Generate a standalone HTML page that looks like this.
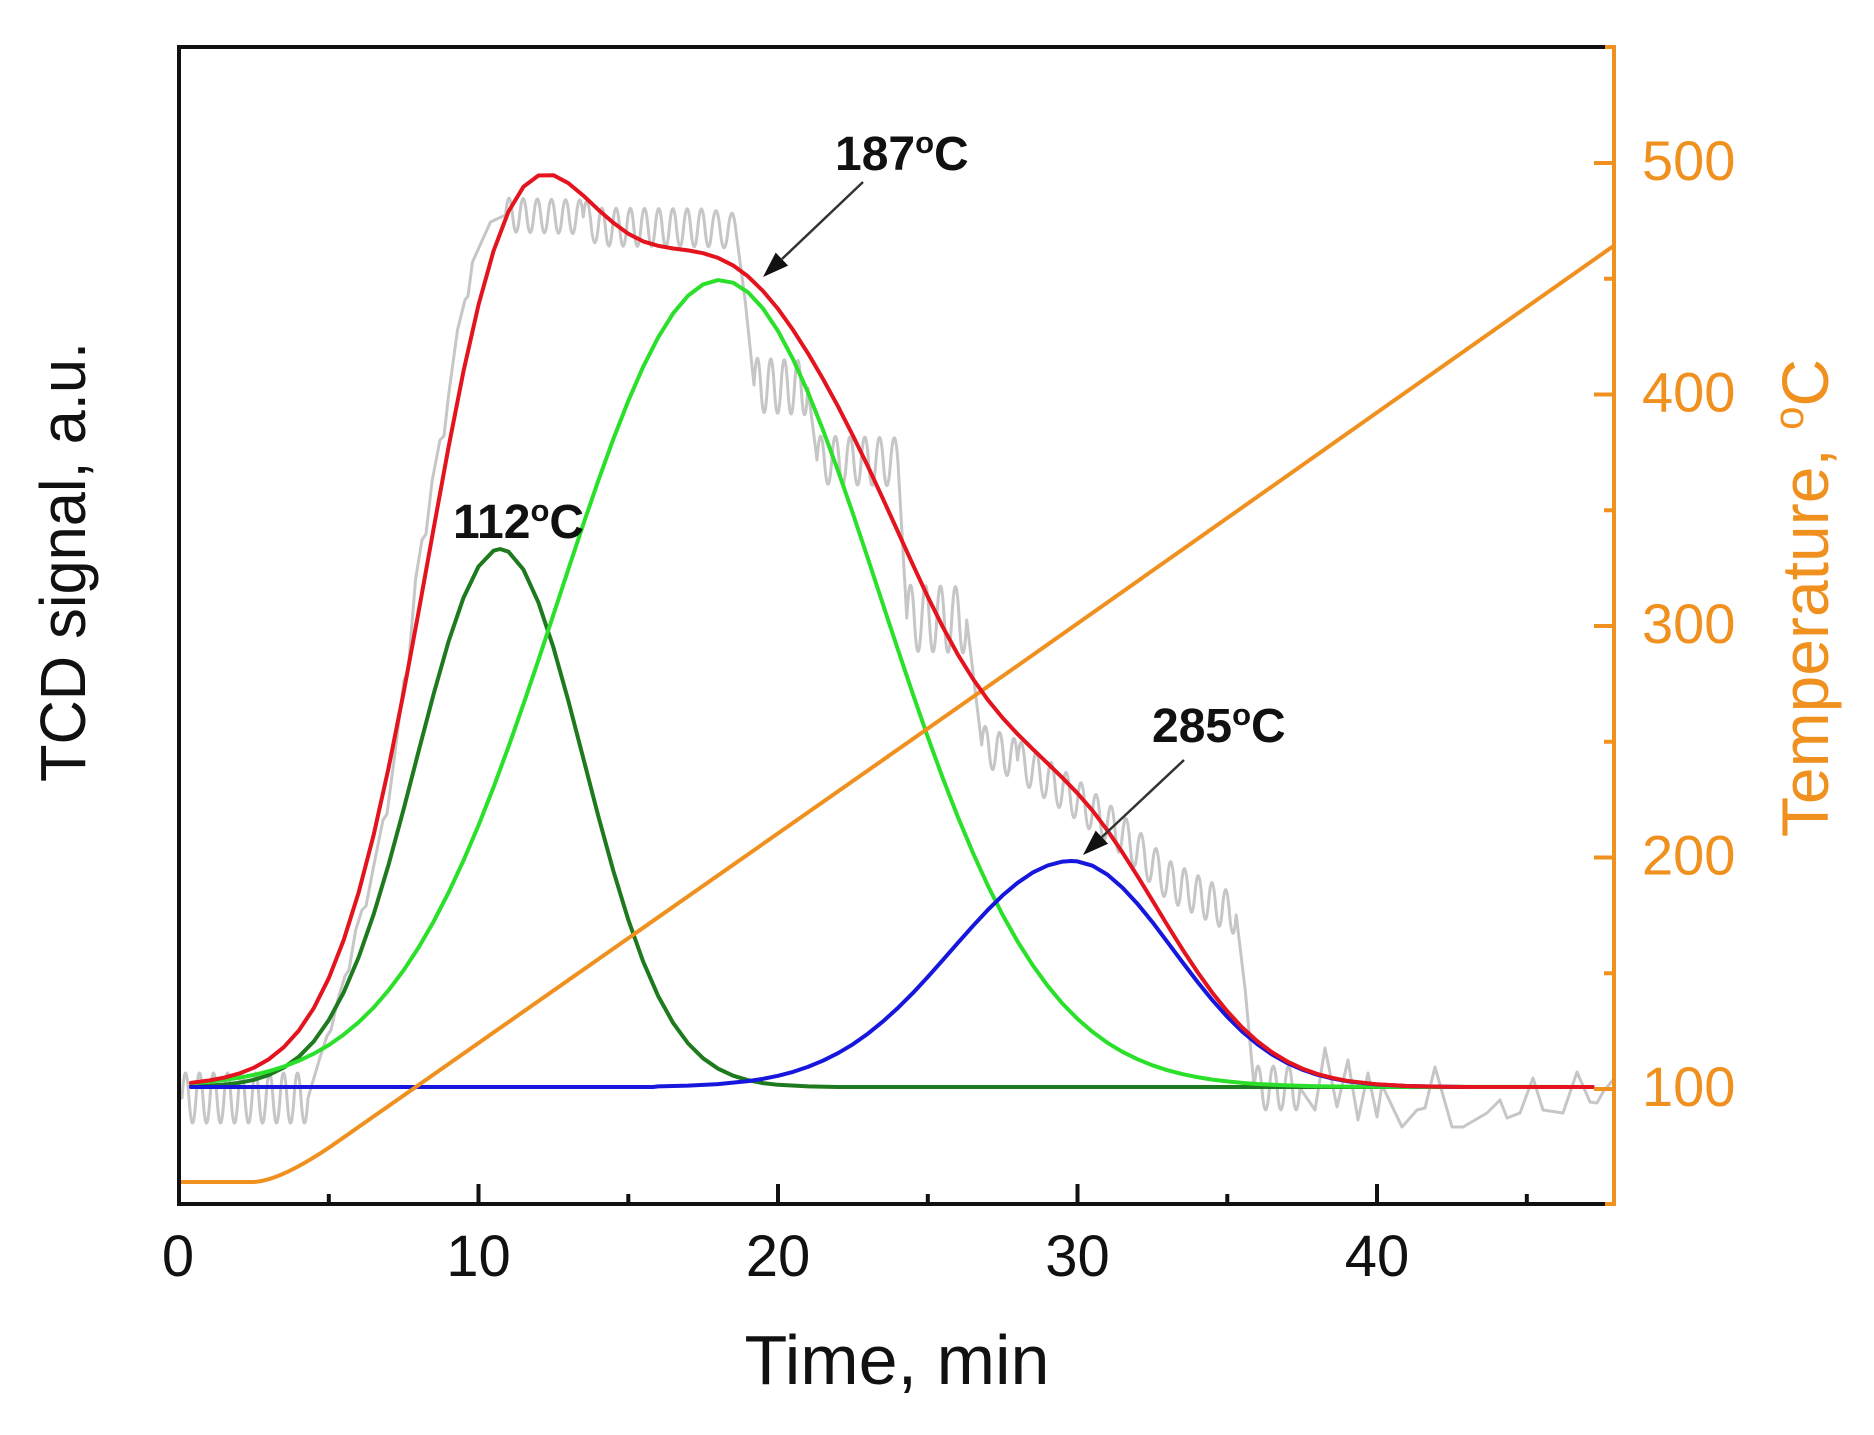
<!DOCTYPE html>
<html>
<head>
<meta charset="utf-8">
<style>
html,body{margin:0;padding:0;background:#fff;}
svg{display:block;}
</style>
</head>
<body>
<svg width="1874" height="1435" viewBox="0 0 1874 1435" xmlns="http://www.w3.org/2000/svg" font-family="'Liberation Sans', Arial, sans-serif">
<rect x="0" y="0" width="1874" height="1435" fill="#ffffff"/>

<g fill="none" stroke-linejoin="round" stroke-linecap="round">
<!-- gray raw signal -->
<path stroke="#C6C6C6" stroke-width="3" d="M182,1098 q3.5,-50 7,0 t7,0 t7,0 t7,0 t7,0 t7,0 t7,0 t7,0 t7,0 t7,0 t7,0 t7,0 t7,0 t7,0 t7,0 t7,0 t7,0 t7,0
L319.8,1058 L327,1036 L331,1030 L337.7,1000 L345,976 L349,970 L355.7,930 L362,910 L366,906 L373.7,866 L383,820 L387,814 L394.6,756 L404,680 L408,672 L415.6,579 L422,540 L426,534 L432.1,481 L440,440 L444,436 L448.6,395 L457.5,330 L465,300 L468,296 L472.5,262 L490.5,222 L505.5,215
q3.54,-33.8 7.07,0.18 t7.07,0.18 t7.07,0.18 t7.07,0.18 t7.07,0.18 t7.07,0.18 t7.07,0.18 t7.07,0.18 t7.07,0.18 t7.07,0.18 t7.07,0.18
q3.75,-33.5 7.5,5 t7.5,5
q3.56,-37.97 7.11,0.06 t7.11,0.06 t7.11,0.06 t7.11,0.06 t7.11,0.06 t7.11,0.06 t7.11,0.06 t7.11,0.06 t7.11,0.06 t7.11,0.06 t7.11,0.06 t7.11,0.06 t7.11,0.06 t7.11,0.06 t7.11,0.06 t7.11,0.06
q4,-35.3 8,1.33 t8,1.33 t8,1.33
L745.1,300 L754,385
q3.37,-53.8 6.74,0.375 t6.74,0.375 t6.74,0.375 t6.74,0.375 t6.74,0.375 t6.74,0.375 t6.74,0.375 t6.74,0.375
L817,460
q3.68,-47.9 7.36,0.18 t7.36,0.18 t7.36,0.18 t7.36,0.18 t7.36,0.18 t7.36,0.18 t7.36,0.18 t7.36,0.18 t7.36,0.18 t7.36,0.18 t7.36,0.18
L906.8,618
q3.74,-65.9 7.49,0.25 t7.49,0.25 t7.49,0.25 t7.49,0.25 t7.49,0.25 t7.49,0.25 t7.49,0.25 t7.49,0.25
L981.7,745
q3.59,-38.5 7.18,3 t7.18,3 t7.18,3 t7.18,3 t7.18,3
q3.74,-37.5 7.49,5 t7.49,5 t7.49,5 t7.49,5 t7.49,5 t7.49,5 t7.49,5 t7.49,5
q3.74,-37.1 7.48,5.83 t7.48,5.83 t7.48,5.83 t7.48,5.83 t7.48,5.83 t7.48,5.83
q3.75,-36.25 7.5,7.5 t7.5,7.5 t7.5,7.5 t7.5,7.5 t7.5,7.5 t7.5,7.5
q3.44,-38.25 6.88,3.5 t6.88,3.5 t6.88,3.5 t6.88,3.5 t6.88,3.5 t6.88,3.5 t6.88,3.5 t6.88,3.5 t6.88,3.5 t6.88,3.5
L1245.2,990 L1254.2,1088
q3.82,-44 7.63,0 t7.63,0 t7.63,0 t7.63,0 t7.63,0 t7.63,0
L1315,1110 L1325,1048 L1337,1107 L1348,1060 L1358,1120 L1368,1073 L1377,1117 L1382,1085 L1402,1127 L1417,1110 L1425,1108 L1435,1067 L1452,1127 L1463,1127 L1487,1113 L1500,1100 L1507,1118 L1520,1113 L1533,1078 L1543,1110 L1563,1113 L1577,1072 L1590,1102 L1597,1103 L1603,1092 L1613,1080"/>

<!-- dark green -->
<path stroke="#1E7A1E" stroke-width="4" d="M191,1086.3 L208.95,1085.7 L223.9,1084.6 L238.9,1082.8 L253.9,1079.8 L268.85,1075 L283.8,1067.6 L298.8,1056.8 L313.8,1041.4 L328.75,1020.2 L343.7,992.4 L358.7,957.1 L373.7,914.2 L388.65,864.4 L403.6,809.3 L418.6,751.3 L433.6,694.1 L448.55,641.5 L463.5,597.7 L478.5,566.5 L493.5,550.7 L500.1,549 L508.45,551.7 L523.4,569.5 L538.4,602.4 L553.4,647.4 L568.35,700.8 L583.3,758.3 L598.3,816.1 L613.3,870.7 L628.25,919.7 L643.2,961.7 L658.2,996.1 L673.2,1023.1 L688.15,1043.5 L703.1,1058.3 L718.1,1068.7 L733.1,1075.7 L748.05,1080.2 L763,1083.1 L778,1084.8 L807.95,1086.4 L837.9,1087 L1592.6,1087"/>

<!-- light green -->
<path stroke="#2BE02B" stroke-width="4" d="M191,1083.4 L208.95,1081.8 L223.9,1080 L238.9,1077.8 L253.9,1074.9 L268.85,1071.2 L283.8,1066.6 L298.8,1060.8 L313.8,1053.7 L328.75,1045.1 L343.7,1034.6 L358.7,1022.2 L373.7,1007.5 L388.65,990.2 L403.6,970.3 L418.6,947.5 L433.6,921.6 L448.55,892.6 L463.5,860.5 L478.5,825.4 L493.5,787.4 L508.45,746.9 L523.4,704.3 L538.4,660.1 L553.4,614.8 L568.35,569.3 L583.3,524.3 L598.3,480.6 L613.3,439.1 L628.25,401 L643.2,366.7 L658.2,337.3 L673.2,313.3 L688.15,295.6 L703.1,284.4 L718.1,280.05 L733.1,282.7 L748.05,292.3 L763,308.5 L778,331 L793,359.2 L807.95,392.3 L822.9,429.7 L837.9,470.4 L852.9,513.6 L867.85,558.4 L882.8,603.9 L897.8,649.3 L912.8,693.8 L927.75,736.9 L942.7,777.9 L957.7,816.5 L972.7,852.3 L987.65,885.2 L1002.6,914.9 L1017.6,941.5 L1032.6,965.1 L1047.55,985.7 L1062.5,1003.6 L1077.5,1018.9 L1092.5,1031.9 L1107.45,1042.8 L1122.4,1051.8 L1137.4,1059.2 L1152.4,1065.3 L1167.35,1070.2 L1182.3,1074.1 L1197.3,1077.15 L1212.3,1079.6 L1227.25,1081.4 L1242.2,1082.9 L1257.2,1084 L1287.15,1085.4 L1317.1,1086.2 L1347.05,1086.6 L1377,1086.8 L1592.6,1087"/>

<!-- blue -->
<path stroke="#1616DC" stroke-width="4" d="M191,1087 L653,1087 L658.2,1086.4 L688.15,1085.65 L718.1,1084.1 L748.05,1081.1 L763,1078.8 L778,1075.8 L793,1071.9 L807.95,1066.9 L822.9,1060.7 L837.9,1053.2 L852.9,1044.3 L867.85,1033.7 L882.8,1021.6 L897.8,1008 L912.8,993.1 L927.75,977 L942.7,960.2 L957.7,943.1 L972.7,926.2 L987.65,910.1 L1002.6,895.4 L1017.6,882.8 L1032.6,872.6 L1047.55,865.5 L1062.5,861.6 L1071.5,861 L1077.5,861.4 L1092.5,865.7 L1107.45,874.6 L1122.4,887.6 L1137.4,903.7 L1152.4,922.1 L1167.35,941.9 L1182.3,962 L1197.3,981.6 L1212.3,1000.1 L1227.25,1016.8 L1242.2,1031.6 L1257.2,1044.1 L1272.2,1054.6 L1287.15,1063 L1302.1,1069.6 L1317.1,1074.7 L1332.1,1078.4 L1347.05,1081.2 L1377,1084.5 L1406.95,1086 L1436.9,1086.6 L1466.9,1087 L1592.6,1087"/>

<!-- orange temperature -->
<path stroke="#F0901E" stroke-width="4" d="M180,1182 L253,1182 Q282,1181 340,1140 L1020,664 L1612,247"/>

<!-- red sum -->
<path stroke="#E3141E" stroke-width="4" d="M191,1082.8 L208.95,1080.5 L223.9,1077.7 L238.9,1073.6 L253.9,1067.7 L268.85,1059.2 L283.8,1047.2 L298.8,1030.6 L313.8,1008.1 L328.75,978.3 L343.7,940 L358.7,892.3 L373.7,834.7 L388.65,767.6 L403.6,692.6 L418.6,611.8 L433.6,528.7 L448.55,447.1 L463.5,371.2 L478.5,304.9 L493.5,251.1 L508.45,211.6 L523.4,186.8 L538.4,175.5 L553.4,175.2 L568.35,183.1 L583.3,195.6 L598.3,209.7 L613.3,222.8 L628.25,233.7 L643.2,241.4 L658.2,245.8 L673.2,248.5 L688.15,250.4 L703.1,253.2 L718.1,257.9 L733.1,265.4 L748.05,276.4 L763,291 L778,308.9 L793,329.9 L807.95,353.3 L822.9,378.8 L837.9,406.2 L852.9,435.6 L867.85,466.3 L882.8,498.5 L897.8,531.5 L912.8,564.6 L927.75,596.7 L942.7,626.8 L957.7,654.3 L972.7,678.5 L987.65,699.6 L1002.6,717.9 L1017.6,734.1 L1032.6,748.9 L1047.55,763.3 L1062.5,777.8 L1077.5,793.3 L1092.5,810.6 L1107.45,830.4 L1122.4,852.4 L1137.4,875.9 L1152.4,900.4 L1167.35,925.1 L1182.3,949.1 L1197.3,971.75 L1212.3,992.7 L1227.25,1011.2 L1242.2,1027.5 L1257.2,1041.1 L1272.2,1052.4 L1287.15,1061.4 L1302.1,1068.45 L1317.1,1073.9 L1332.1,1077.85 L1347.05,1080.8 L1377,1084.3 L1406.95,1086 L1436.9,1086.6 L1466.9,1087 L1592.6,1087"/>
</g>

<!-- axes frame -->
<g stroke="#111" stroke-width="4" fill="none">
  <line x1="179" y1="45" x2="179" y2="1206"/>
  <line x1="177" y1="47" x2="1608" y2="47"/>
  <line x1="177" y1="1204" x2="1608" y2="1204"/>
  <line x1="478.5" y1="1204" x2="478.5" y2="1184"/>
  <line x1="778" y1="1204" x2="778" y2="1184"/>
  <line x1="1077.5" y1="1204" x2="1077.5" y2="1184"/>
  <line x1="1377" y1="1204" x2="1377" y2="1184"/>
  <line x1="328.8" y1="1204" x2="328.8" y2="1194"/>
  <line x1="628.3" y1="1204" x2="628.3" y2="1194"/>
  <line x1="927.8" y1="1204" x2="927.8" y2="1194"/>
  <line x1="1227.3" y1="1204" x2="1227.3" y2="1194"/>
  <line x1="1526.8" y1="1204" x2="1526.8" y2="1194"/>
</g>
<g stroke="#F0901E" stroke-width="4" fill="none">
  <line x1="1614" y1="45" x2="1614" y2="1206"/>
  <line x1="1605" y1="47" x2="1616" y2="47"/>
  <line x1="1605" y1="1204" x2="1616" y2="1204"/>
  <line x1="1614" y1="1089" x2="1594" y2="1089"/>
  <line x1="1614" y1="857.5" x2="1594" y2="857.5"/>
  <line x1="1614" y1="626" x2="1594" y2="626"/>
  <line x1="1614" y1="394.5" x2="1594" y2="394.5"/>
  <line x1="1614" y1="163" x2="1594" y2="163"/>
  <line x1="1614" y1="973.25" x2="1604" y2="973.25"/>
  <line x1="1614" y1="741.75" x2="1604" y2="741.75"/>
  <line x1="1614" y1="510.25" x2="1604" y2="510.25"/>
  <line x1="1614" y1="278.75" x2="1604" y2="278.75"/>
</g>

<!-- bottom tick labels -->
<g font-size="58" fill="#111" text-anchor="middle">
  <text x="178" y="1276">0</text>
  <text x="478.5" y="1276">10</text>
  <text x="778" y="1276">20</text>
  <text x="1077.5" y="1276">30</text>
  <text x="1377" y="1276">40</text>
</g>
<!-- right tick labels -->
<g font-size="56" fill="#F0901E">
  <text x="1642" y="1106">100</text>
  <text x="1642" y="874.5">200</text>
  <text x="1642" y="643">300</text>
  <text x="1642" y="411.5">400</text>
  <text x="1642" y="180">500</text>
</g>

<!-- axis titles -->
<text x="897" y="1384" font-size="70" fill="#111" text-anchor="middle" textLength="305" lengthAdjust="spacingAndGlyphs">Time, min</text>
<text transform="translate(85,562) rotate(-90)" font-size="64" fill="#111" text-anchor="middle" textLength="440" lengthAdjust="spacingAndGlyphs">TCD signal, a.u.</text>
<text transform="translate(1828,598) rotate(-90)" font-size="66" fill="#F0901E" text-anchor="middle">Temperature, <tspan font-size="42" dy="-25">o</tspan><tspan dy="25">C</tspan></text>

<!-- annotations -->
<g font-size="48" font-weight="bold" fill="#111">
  <text x="835" y="170">187<tspan font-size="31" dy="-17">o</tspan><tspan dy="17">C</tspan></text>
  <text x="453" y="538">112<tspan font-size="31" dy="-17">o</tspan><tspan dy="17">C</tspan></text>
  <text x="1152" y="742">285<tspan font-size="31" dy="-17">o</tspan><tspan dy="17">C</tspan></text>
</g>
<g stroke="#333" stroke-width="2.5">
  <line x1="863" y1="182" x2="782" y2="259"/>
  <line x1="1184" y1="760" x2="1102" y2="837"/>
</g>
<g fill="#111">
  <polygon points="763,277 788.1,265.6 775.7,252.6"/>
  <polygon points="1083,855 1108.1,843.8 1095.7,830.6"/>
</g>
</svg>
</body>
</html>
